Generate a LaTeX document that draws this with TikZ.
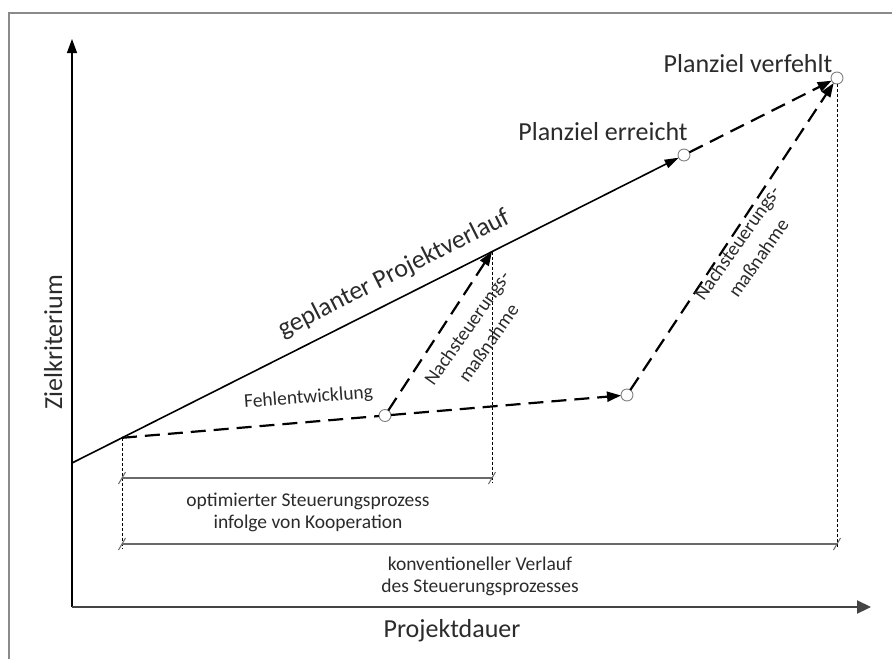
\documentclass[tikz,border=0pt]{standalone}
\usepackage{fontspec}
\setmainfont{Carlito}
\usetikzlibrary{arrows.meta,calc}
\definecolor{ink}{HTML}{2B2B2B}
\definecolor{framegray}{HTML}{8A8A8A}
\definecolor{dimgray}{HTML}{6A6A6A}
\definecolor{axisgray}{HTML}{444444}
\begin{document}
\begin{tikzpicture}[x=1pt,y=-1pt,
  every node/.style={text=ink, inner sep=0pt, outer sep=0pt},
  bigtext/.style={font=\fontsize{26}{30}\selectfont},
  smalltext/.style={font=\fontsize{19.5}{22}\selectfont},
  axisline/.style={line width=1.3pt, -{Triangle[length=14pt,width=10pt]}},
  plan/.style={line width=1.6pt, -{Triangle[length=14pt,width=9pt]}},
  devplain/.style={line width=2.2pt, dash pattern=on 15pt off 8pt},
  dev/.style={devplain, -{Triangle[length=14pt,width=10pt]}},
  guide/.style={line width=0.7pt, dash pattern=on 3pt off 2pt},
  dimline/.style={line width=1.5pt, draw=dimgray},
  dimtick/.style={line width=1pt, draw=dimgray},
  milestone/.style={circle, draw=gray, fill=white, line width=0.9pt, minimum size=12pt},
]
% canvas and frame
\useasboundingbox (0,0) rectangle (892,659);
\draw[framegray, line width=2pt] (9,659) -- (9,13) -- (892,13);

% reference points
\coordinate (O) at (72,607);
\coordinate (ytip) at (72,39);
\coordinate (xtip) at (871,607);
\coordinate (base) at (72,463);
\coordinate (start) at (122,437.8);
\coordinate (korr) at (492,251.6);
\node[milestone] (erreicht) at (684,155) {};
\node[milestone] (verfehlt) at (837,78) {};
\node[milestone] (abw) at (627,395) {};
\node[milestone] (fehl) at ($(start)!0.5208!(abw)$) {};

% axes
\draw[axisline] (O) -- (ytip);
\draw[axisline, line width=2.2pt, draw=axisgray, -{Triangle[length=14pt,width=13pt]}] (O) -- (xtip);

% planned course and deviations
\draw[plan] (base) -- (erreicht);
\draw[devplain] (start) -- (fehl);
\draw[dev] (fehl) -- (abw);
\draw[dev] (fehl) -- (korr);
\draw[dev] (erreicht) -- (verfehlt);
\draw[dev] (abw) -- (verfehlt);

% guide lines and durations
\coordinate (d1l) at (122,478);
\coordinate (d1r) at (492,478);
\coordinate (d2l) at (122,544);
\coordinate (d2r) at (837,544);
\coordinate (g1) at (122,549);
\coordinate (g2) at (492,482);
\coordinate (g3) at (837,548);
\draw[guide] (start) -- (g1);
\draw[guide] (korr) -- (g2);
\draw[guide] (verfehlt) -- (g3);
\draw[dimline] (d1l) -- (d1r);
\draw[dimline] (d2l) -- (d2r);
\foreach \p in {d1l,d1r,d2l,d2r}
  \draw[dimtick] ($(\p)+(-3.5,6)$) -- ($(\p)+(3.5,-6)$);

% labels
\node[bigtext, rotate=90, anchor=base] (ylab) at (62,342) {Zielkriterium};
\node[bigtext, anchor=base] (xlab) at (452,637) {Projektdauer};
\node[bigtext, anchor=base] (lerreicht) at (603,140) {Planziel erreicht};
\node[bigtext, anchor=base] (lverfehlt) at (748,72) {Planziel verfehlt};
\node[bigtext, rotate=26.7, anchor=base] (lplan) at (397,280) {geplanter Projektverlauf};
\node[smalltext, rotate=4.4, anchor=base] (lfehl) at (309,403) {Fehlentwicklung};
\node[smalltext, rotate=55, anchor=base] (lnach1a) at (472.3,331.9) {Nachsteuerungs-};
\node[smalltext, rotate=55, anchor=base] (lnach1b) at (493.7,346.9) {maßnahme};
\node[smalltext, rotate=55, anchor=base] (lnach2a) at (742.3,246.9) {Nachsteuerungs-};
\node[smalltext, rotate=55, anchor=base] (lnach2b) at (763.7,261.9) {maßnahme};
\node[smalltext, anchor=base] (lopt1) at (308,506) {optimierter Steuerungsprozess};
\node[smalltext, anchor=base] (lopt2) at (308,528) {infolge von Kooperation};
\node[smalltext, anchor=base] (lkon1) at (480,570) {konventioneller Verlauf};
\node[smalltext, anchor=base] (lkon2) at (480,592) {des Steuerungsprozesses};
\end{tikzpicture}
\end{document}
